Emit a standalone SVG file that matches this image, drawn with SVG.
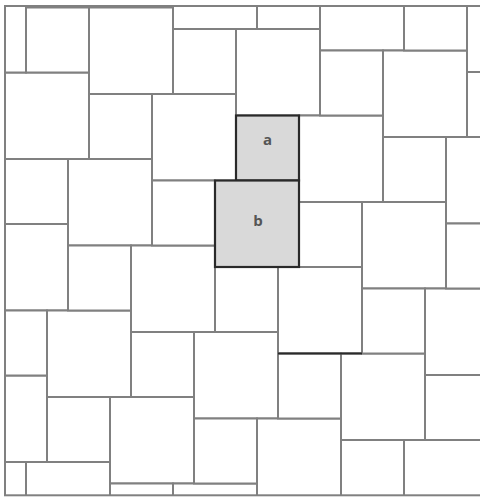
<svg xmlns="http://www.w3.org/2000/svg" width="480" height="497" viewBox="0 0 480 497">
<style>
.big{fill:#fff;stroke:#808080;stroke-width:2}
.sm{fill:#fff;stroke:#808080;stroke-width:2}
.hl{fill:#d9d9d9;stroke:#2a2a2a;stroke-width:2.2}
.lbl{font-family:"Open Sans","Liberation Sans",sans-serif;font-size:15px;font-weight:bold;fill:#555;text-anchor:middle}
</style>
<defs>
<clipPath id="frame"><rect x="5" y="6" width="480" height="489.3"/></clipPath>
</defs>
<rect width="480" height="497" fill="#fff"/>
<g id="tiles" clip-path="url(#frame)">
<g id="big-tiles">
<rect class="big" x="89" y="7.5" width="84" height="86.5"/>
<rect class="big" x="5" y="72.5" width="84" height="86.5"/>
<rect class="big" x="173" y="-57.5" width="84" height="86.5"/>
<rect class="big" x="-58" y="-14" width="84" height="86.5"/>
<rect class="big" x="152" y="94" width="84" height="86.5"/>
<rect class="big" x="236" y="29" width="84" height="86.5"/>
<rect class="big" x="320" y="-36" width="84" height="86.5"/>
<rect class="big" x="68" y="159" width="84" height="86.5"/>
<rect class="big" x="-16" y="224" width="84" height="86.5"/>
<rect class="big" x="299" y="115.5" width="84" height="86.5"/>
<rect class="big" x="383" y="50.5" width="84" height="86.5"/>
<rect class="big" x="467" y="-14.5" width="84" height="86.5"/>
<rect class="big" x="131" y="245.5" width="84" height="86.5"/>
<rect class="big" x="47" y="310.5" width="84" height="86.5"/>
<rect class="big" x="-37" y="375.5" width="84" height="86.5"/>
<rect class="big" x="278" y="267" width="84" height="86.5"/>
<rect class="big" x="362" y="202" width="84" height="86.5"/>
<rect class="big" x="446" y="137" width="84" height="86.5"/>
<rect class="big" x="194" y="332" width="84" height="86.5"/>
<rect class="big" x="110" y="397" width="84" height="86.5"/>
<rect class="big" x="26" y="462" width="84" height="86.5"/>
<rect class="big" x="341" y="353.5" width="84" height="86.5"/>
<rect class="big" x="425" y="288.5" width="84" height="86.5"/>
<rect class="big" x="257" y="418.5" width="84" height="86.5"/>
<rect class="big" x="173" y="483.5" width="84" height="86.5"/>
<rect class="big" x="404" y="440" width="84" height="86.5"/>
</g>
<g id="small-tiles">
<rect class="sm" x="26" y="7.5" width="63" height="65"/>
<rect class="sm" x="173" y="29" width="63" height="65"/>
<rect class="sm" x="257" y="-36" width="63" height="65"/>
<rect class="sm" x="89" y="94" width="63" height="65"/>
<rect class="sm" x="5" y="159" width="63" height="65"/>
<rect class="sm" x="320" y="50.5" width="63" height="65"/>
<rect class="sm" x="404" y="-14.5" width="63" height="65"/>
<rect class="sm" x="152" y="180.5" width="63" height="65"/>
<rect class="sm" x="68" y="245.5" width="63" height="65"/>
<rect class="sm" x="-16" y="310.5" width="63" height="65"/>
<rect class="sm" x="299" y="202" width="63" height="65"/>
<rect class="sm" x="383" y="137" width="63" height="65"/>
<rect class="sm" x="467" y="72" width="63" height="65"/>
<rect class="sm" x="215" y="267" width="63" height="65"/>
<rect class="sm" x="131" y="332" width="63" height="65"/>
<rect class="sm" x="47" y="397" width="63" height="65"/>
<rect class="sm" x="-37" y="462" width="63" height="65"/>
<rect class="sm" x="362" y="288.5" width="63" height="65"/>
<rect class="sm" x="446" y="223.5" width="63" height="65"/>
<rect class="sm" x="278" y="353.5" width="63" height="65"/>
<rect class="sm" x="194" y="418.5" width="63" height="65"/>
<rect class="sm" x="110" y="483.5" width="63" height="65"/>
<rect class="sm" x="425" y="375" width="63" height="65"/>
<rect class="sm" x="341" y="440" width="63" height="65"/>
</g>
<line x1="278" y1="353.5" x2="362" y2="353.5" stroke="#2a2a2a" stroke-width="2.2"/>
</g>
<rect id="frame-border" x="5" y="6" width="480" height="489.3" fill="none" stroke="#808080" stroke-width="2"/>
<g id="tile-a">
<rect class="hl" x="236" y="115.5" width="63" height="65"/>
<text class="lbl" x="267.5" y="144.5">a</text>
</g>
<g id="tile-b">
<rect class="hl" x="215" y="180.5" width="84" height="86.5"/>
<text class="lbl" x="258" y="225.5">b</text>
</g>
</svg>
